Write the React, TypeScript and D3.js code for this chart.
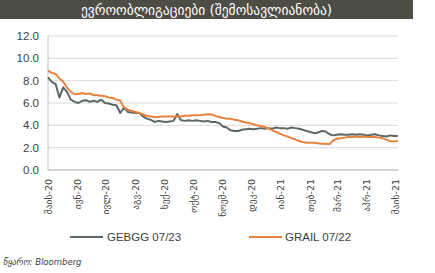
import React from "react";
import * as d3 from "d3";

const title = "ევროობლიგაციები (შემოსავლიანობა)";
const source = "წყარო: Bloomberg";
const seriesNames = ["GEBGG 07/23", "GRAIL 07/22"];
const yTicks = [0, 2, 4, 6, 8, 10, 12];
const monthTicks = [
  "2020-05-01", "2020-06-01", "2020-07-01", "2020-08-01", "2020-09-01", "2020-10-01",
  "2020-11-01", "2020-12-01", "2021-01-01", "2021-02-01", "2021-03-01", "2021-04-01", "2021-05-01",
];
const monthLabels = [
  "მაის-20", "ივნ-20", "ივლ-20", "აგვ-20", "სექ-20", "ოქტ-20", "ნოემ-20",
  "დეკ-20", "იან-21", "თებ-21", "მარ-21", "აპრ-21", "მაის-21",
];
const dates = [
  "2020-05-01", "2020-05-05", "2020-05-09", "2020-05-13", "2020-05-17", "2020-05-21", "2020-05-25", "2020-05-29",
  "2020-06-02", "2020-06-06", "2020-06-10", "2020-06-14", "2020-06-18", "2020-06-22", "2020-06-26", "2020-06-30",
  "2020-07-04", "2020-07-08", "2020-07-12", "2020-07-16", "2020-07-20", "2020-07-24", "2020-07-28",
  "2020-08-01", "2020-08-05", "2020-08-09", "2020-08-13", "2020-08-17", "2020-08-21", "2020-08-25", "2020-08-29",
  "2020-09-02", "2020-09-06", "2020-09-10", "2020-09-14", "2020-09-18", "2020-09-22", "2020-09-26", "2020-09-30",
  "2020-10-04", "2020-10-08", "2020-10-12", "2020-10-16", "2020-10-20", "2020-10-24", "2020-10-28",
  "2020-11-01", "2020-11-05", "2020-11-09", "2020-11-13", "2020-11-17", "2020-11-21", "2020-11-25", "2020-11-29",
  "2020-12-03", "2020-12-07", "2020-12-11", "2020-12-15", "2020-12-19", "2020-12-23", "2020-12-27", "2020-12-31",
  "2021-01-04", "2021-01-08", "2021-01-12", "2021-01-16", "2021-01-20", "2021-01-24", "2021-01-28",
  "2021-02-01", "2021-02-05", "2021-02-09", "2021-02-13", "2021-02-17", "2021-02-21", "2021-02-25",
  "2021-03-01", "2021-03-05", "2021-03-09", "2021-03-13", "2021-03-17", "2021-03-21", "2021-03-25", "2021-03-29",
  "2021-04-02", "2021-04-06", "2021-04-10", "2021-04-14", "2021-04-18", "2021-04-22", "2021-04-26", "2021-04-30",
  "2021-05-04",
];
const gebgg = [
  8.3, 7.9, 7.7, 6.5, 7.4, 7.0, 6.3, 6.1,
  6.0, 6.2, 6.25, 6.1, 6.2, 6.1, 6.3, 6.0,
  5.95, 5.85, 5.8, 5.1, 5.6, 5.2, 5.15,
  5.1, 5.1, 4.8, 4.6, 4.5, 4.3, 4.4, 4.35,
  4.3, 4.35, 4.4, 5.0, 4.45, 4.4, 4.45, 4.4,
  4.45, 4.4, 4.35, 4.4, 4.3, 4.3, 4.2,
  3.9, 3.8, 3.55, 3.5, 3.5, 3.6, 3.65, 3.7,
  3.65, 3.7, 3.75, 3.7, 3.75, 3.7, 3.8, 3.75,
  3.75, 3.7, 3.8, 3.75, 3.7, 3.6, 3.5,
  3.4, 3.3, 3.35, 3.5, 3.45, 3.2, 3.1,
  3.15, 3.2, 3.15, 3.15, 3.2, 3.15, 3.2, 3.15,
  3.1, 3.15, 3.2, 3.1, 3.05, 3.0, 3.1, 3.05,
  3.05,
];
const grail = [
  8.9, 8.7, 8.6, 8.2, 7.9, 7.4, 7.0, 6.8,
  6.8, 6.9, 6.8, 6.85, 6.7, 6.7, 6.65, 6.6,
  6.5, 6.45, 6.3, 6.2, 5.6, 5.4, 5.3,
  5.2, 5.1, 5.0, 4.85, 4.8, 4.75, 4.75, 4.8,
  4.78, 4.8, 4.8, 4.8, 4.82, 4.85, 4.85, 4.9,
  4.9, 4.92, 4.95, 5.0, 4.98, 4.85, 4.75,
  4.65, 4.6, 4.6, 4.5, 4.45, 4.35, 4.25, 4.2,
  4.1, 4.0, 3.95, 3.85, 3.7, 3.55, 3.4, 3.25,
  3.1, 3.0, 2.85, 2.75, 2.6, 2.5, 2.45,
  2.45, 2.45, 2.4, 2.35, 2.35, 2.3, 2.65,
  2.8, 2.85, 2.9, 2.95, 2.95, 3.0, 2.95, 3.0,
  2.95, 2.95, 2.95, 2.9, 2.85, 2.7, 2.6, 2.55,
  2.6,
];

const W = 435;
const H = 273;
const left = 48;
const right = 398;
const top = 36;
const bottom = 170;
const GRAY = "#5c6761";
const ORANGE = "#E8823F";
const FONT = "Liberation Sans, Arial, sans-serif";
const GEO = "DejaVu Sans, sans-serif";

export default function App() {
  const parse = d3.timeParse("%Y-%m-%d");
  const x = d3.scaleTime()
    .domain([parse("2020-05-01") as Date, parse("2021-05-01") as Date])
    .range([left, 395]);
  const y = d3.scaleLinear().domain([0, 12]).range([bottom, top]);
  const pts = dates.map((d) => parse(d) as Date);
  const line = d3.line<number>()
    .x((_, i) => x(pts[i]))
    .y((v) => y(v));

  return (
    <svg width={W} height={H} style={{ position: "absolute", left: 0, top: 0, background: "#fff" }}>
      <rect x={0} y={0} width={413} height={19} fill="#4d4c45" />
      <text x={206.5} y={14.5} fill="#fff" fontFamily={GEO} fontSize={13.5} textAnchor="middle">{title}</text>

      {yTicks.filter((t) => t > 0).map((t) => (
        <line key={t} x1={left} x2={right} y1={y(t)} y2={y(t)} stroke="#d9d9d9" strokeWidth={1} />
      ))}
      <line x1={left} x2={left} y1={top} y2={bottom} stroke="#bfbfbf" strokeWidth={1} />
      <line x1={left} x2={right} y1={bottom} y2={bottom} stroke="#a6a6a6" strokeWidth={1} />
      {yTicks.map((t) => (
        <text key={t} x={39} y={y(t) + 4} textAnchor="end" fontFamily={FONT} fontSize={11.5} fill="#404040">
          {t.toFixed(1)}
        </text>
      ))}
      {monthTicks.map((m, i) => {
        const xx = x(parse(m) as Date);
        return (
          <text key={m} transform={`translate(${xx + 3.5},179) rotate(-90)`} textAnchor="end"
            fontFamily={GEO} fontSize={9.5} fill="#404040">{monthLabels[i]}</text>
        );
      })}

      <path d={line(gebgg) ?? ""} fill="none" stroke={GRAY} strokeWidth={2} strokeLinejoin="round" />
      <path d={line(grail) ?? ""} fill="none" stroke={ORANGE} strokeWidth={2} strokeLinejoin="round" />

      <line x1={70} x2={103} y1={237} y2={237} stroke={GRAY} strokeWidth={2} />
      <text x={107} y={241} fontFamily={FONT} fontSize={11.5} fill="#404040">{seriesNames[0]}</text>
      <line x1={249} x2={282} y1={237} y2={237} stroke={ORANGE} strokeWidth={2} />
      <text x={285} y={241} fontFamily={FONT} fontSize={11.5} fill="#404040">{seriesNames[1]}</text>

      <text x={3} y={265} fontFamily={GEO} fontStyle="italic" fontSize={8.5} fill="#404040">{source}</text>
    </svg>
  );
}
